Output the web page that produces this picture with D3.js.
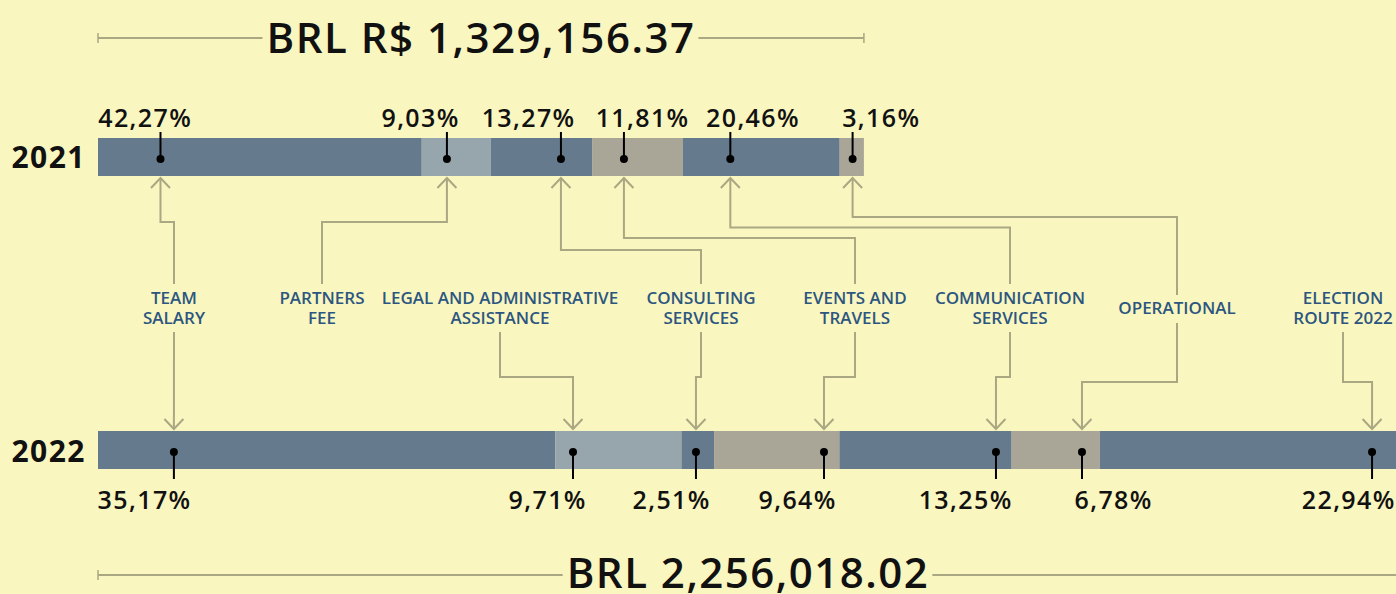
<!DOCTYPE html>
<html>
<head>
<meta charset="utf-8">
<script src="https://cdn.jsdelivr.net/npm/d3@7"></script>
<style>
  html, body { margin: 0; padding: 0; background: #faf6c0; overflow: hidden; }
  svg { display: block; font-family: "Open Sans", "Noto Sans", sans-serif; }
</style>
</head>
<body>
<script>
// values
const years = ["2021", "2022"];
const totalsBRL = [1329156.37, 2256018.02];
const totalLabels = ["BRL R$ 1,329,156.37", "BRL 2,256,018.02"];

const categories2021 = ["TEAM SALARY", "PARTNERS FEE", "CONSULTING SERVICES", "EVENTS AND TRAVELS", "COMMUNICATION SERVICES", "OPERATIONAL"];
const shares2021 = [42.27, 9.03, 13.27, 11.81, 20.46, 3.16];

const categories2022 = ["TEAM SALARY", "LEGAL AND ADMINISTRATIVE ASSISTANCE", "CONSULTING SERVICES", "EVENTS AND TRAVELS", "COMMUNICATION SERVICES", "OPERATIONAL", "ELECTION ROUTE 2022"];
const shares2022 = [35.17, 9.71, 2.51, 9.64, 13.25, 6.78, 22.94];

const labelOrder = ["TEAM SALARY", "PARTNERS FEE", "LEGAL AND ADMINISTRATIVE ASSISTANCE", "CONSULTING SERVICES", "EVENTS AND TRAVELS", "COMMUNICATION SERVICES", "OPERATIONAL", "ELECTION ROUTE 2022"];

// layout: where each label sits, where its pins go inside the segment, elbows
const layout = {
  "TEAM SALARY":                         { x: 174,  lines: ["TEAM", "SALARY"], up: 222, down: null, pin21: 0.193, pin22: 0.166, dx21: -16, dx22: -30 },
  "PARTNERS FEE":                        { x: 322,  lines: ["PARTNERS", "FEE"], up: 222, pin21: 0.364, dx21: -27 },
  "LEGAL AND ADMINISTRATIVE ASSISTANCE": { x: 500,  lines: ["LEGAL AND ADMINISTRATIVE", "ASSISTANCE"], down: 377, pin22: 0.141, dx22: -26 },
  "CONSULTING SERVICES":                 { x: 701,  lines: ["CONSULTING", "SERVICES"], up: 250, down: 377, pin21: 0.689, pin22: 0.445, dx21: -33, dx22: -25 },
  "EVENTS AND TRAVELS":                  { x: 855,  lines: ["EVENTS AND", "TRAVELS"], up: 238, down: 377, pin21: 0.347, pin22: 0.877, dx21: 18, dx22: -27 },
  "COMMUNICATION SERVICES":              { x: 1010, lines: ["COMMUNICATION", "SERVICES"], up: 227.5, down: 377, pin21: 0.302, pin22: 0.909, dx21: 22, dx22: -31 },
  "OPERATIONAL":                         { x: 1177, lines: ["OPERATIONAL"], up: 217, down: 382, pin21: 0.533, pin22: 0.798, dx21: 28, dx22: 31 },
  "ELECTION ROUTE 2022":                 { x: 1343, lines: ["ELECTION", "ROUTE 2022"], down: 382, pin22: 0.913, dx22: -24 }
};

const colorOf = {
  "TEAM SALARY": "#667a8e",
  "PARTNERS FEE": "#97a6ad",
  "LEGAL AND ADMINISTRATIVE ASSISTANCE": "#97a6ad",
  "CONSULTING SERVICES": "#667a8e",
  "EVENTS AND TRAVELS": "#a9a697",
  "COMMUNICATION SERVICES": "#667a8e",
  "OPERATIONAL": "#a9a697",
  "ELECTION ROUTE 2022": "#667a8e"
};

const W = 1396, H = 594;
const lineColor = "#aaa783";
const bar21 = { y: 138, h: 38 };
const bar22 = { y: 431, h: 38 };

const svg = d3.select("body").append("svg")
  .attr("width", W)
  .attr("height", H);

svg.append("rect").attr("width", W).attr("height", H).attr("fill", "#faf6c0");

// one money scale for both years
const x = d3.scaleLinear()
  .domain([0, d3.max(totalsBRL)])
  .range([98, 1398]);

const fmtPct = v => d3.format(".2f")(v).replace(".", ",") + "%";

function buildSegments(cats, shares, total) {
  const ends = d3.cumsum(shares);
  return cats.map((c, i) => {
    const v0 = (ends[i] - shares[i]) / 100 * total;
    const v1 = ends[i] / 100 * total;
    return { cat: c, share: shares[i], x0: x(v0), x1: x(v1) };
  });
}

const seg21 = buildSegments(categories2021, shares2021, totalsBRL[0]);
const seg22 = buildSegments(categories2022, shares2022, totalsBRL[1]);
seg21.forEach(d => { d.pin = d.x0 + (d.x1 - d.x0) * layout[d.cat].pin21; });
seg22.forEach(d => { d.pin = d.x0 + (d.x1 - d.x0) * layout[d.cat].pin22; });

// total brackets
function totalBracket(total, label, y, baseline) {
  const g = svg.append("g");
  const x0 = x(0), x1 = x(total);
  const t = g.append("text")
    .attr("x", (x0 + x1) / 2)
    .attr("y", baseline)
    .attr("text-anchor", "middle")
    .attr("font-size", 42)
    .attr("font-weight", 600)
    .attr("letter-spacing", 1.5)
    .attr("fill", "#111")
    .text(label);
  const bb = t.node().getBBox();
  g.append("line").attr("x1", x0).attr("x2", bb.x - 4).attr("y1", y).attr("y2", y)
    .attr("stroke", lineColor).attr("stroke-width", 2);
  g.append("line").attr("x1", bb.x + bb.width + 3).attr("x2", x1).attr("y1", y).attr("y2", y)
    .attr("stroke", lineColor).attr("stroke-width", 2);
  [x0, x1].forEach(xx => {
    g.append("line").attr("x1", xx).attr("x2", xx).attr("y1", y - 5).attr("y2", y + 5)
      .attr("stroke", lineColor).attr("stroke-width", 1.5);
  });
}
totalBracket(totalsBRL[0], totalLabels[0], 38, 53);
totalBracket(totalsBRL[1], totalLabels[1], 575, 588);

// year labels
svg.selectAll("text.year")
  .data(years)
  .join("text")
  .attr("class", "year")
  .attr("x", 86)
  .attr("y", (d, i) => i === 0 ? 168 : 462)
  .attr("text-anchor", "end")
  .attr("font-size", 30)
  .attr("font-weight", 700)
  .attr("letter-spacing", 1.5)
  .attr("fill", "#111")
  .text(d => d);

// connectors
const conn = svg.append("g")
  .attr("fill", "none")
  .attr("stroke", lineColor)
  .attr("stroke-width", 2);

const arrowTop = bar21.y + bar21.h + 2;
const arrowBot = bar22.y - 2;

labelOrder.forEach(name => {
  const L = layout[name];
  const twoLines = L.lines.length > 1;
  const topEnd = twoLines ? 284 : 295;
  const botStart = twoLines ? 332 : 323;
  const s21 = seg21.find(d => d.cat === name);
  const s22 = seg22.find(d => d.cat === name);
  if (s21) {
    const p = d3.path();
    p.moveTo(s21.pin, arrowTop);
    p.lineTo(s21.pin, L.up);
    p.lineTo(L.x, L.up);
    p.lineTo(L.x, topEnd);
    conn.append("path").attr("d", p.toString());
    conn.append("path").attr("d", `M${s21.pin - 9.5},${arrowTop + 10}L${s21.pin},${arrowTop}L${s21.pin + 9.5},${arrowTop + 10}`);
  }
  if (s22) {
    const p = d3.path();
    p.moveTo(L.x, botStart);
    if (L.down != null) {
      p.lineTo(L.x, L.down);
      p.lineTo(s22.pin, L.down);
    }
    p.lineTo(s22.pin, arrowBot);
    conn.append("path").attr("d", p.toString());
    conn.append("path").attr("d", `M${s22.pin - 9.5},${arrowBot - 10}L${s22.pin},${arrowBot}L${s22.pin + 9.5},${arrowBot - 10}`);
  }
});

// category labels
const labels = svg.append("g")
  .attr("font-size", 17)
  .attr("font-weight", 600)
  .attr("fill", "#2c5680")
  .attr("text-anchor", "middle");

labelOrder.forEach(name => {
  const L = layout[name];
  const t = labels.append("text").attr("x", L.x);
  if (L.lines.length === 1) {
    t.attr("y", 314).text(L.lines[0]);
  } else {
    L.lines.forEach((ln, i) => {
      t.append("tspan").attr("x", L.x).attr("y", 304 + i * 20).text(ln);
    });
  }
});

// bars
function drawBar(segs, bar, stemEnd, labelY, dxKey) {
  const g = svg.append("g");
  g.selectAll("rect")
    .data(segs)
    .join("rect")
    .attr("x", d => d.x0)
    .attr("y", bar.y)
    .attr("width", d => d.x1 - d.x0)
    .attr("height", bar.h)
    .attr("fill", d => colorOf[d.cat]);

  const cy = bar.y + bar.h / 2 + 2;
  g.selectAll("line.stem")
    .data(segs)
    .join("line")
    .attr("class", "stem")
    .attr("x1", d => d.pin).attr("x2", d => d.pin)
    .attr("y1", cy).attr("y2", stemEnd)
    .attr("stroke", "#000").attr("stroke-width", 2);

  g.selectAll("circle")
    .data(segs)
    .join("circle")
    .attr("cx", d => d.pin)
    .attr("cy", cy)
    .attr("r", 4)
    .attr("fill", "#000");

  g.selectAll("text")
    .data(segs)
    .join("text")
    .attr("x", d => d.pin + layout[d.cat][dxKey] + 0.7)
    .attr("y", labelY)
    .attr("text-anchor", "middle")
    .attr("font-size", 25)
    .attr("font-weight", 600)
    .attr("letter-spacing", 1.4)
    .attr("fill", "#111")
    .text(d => fmtPct(d.share));
}

drawBar(seg21, bar21, 132, 127, "dx21");
drawBar(seg22, bar22, 479, 509, "dx22");
</script>
</body>
</html>
